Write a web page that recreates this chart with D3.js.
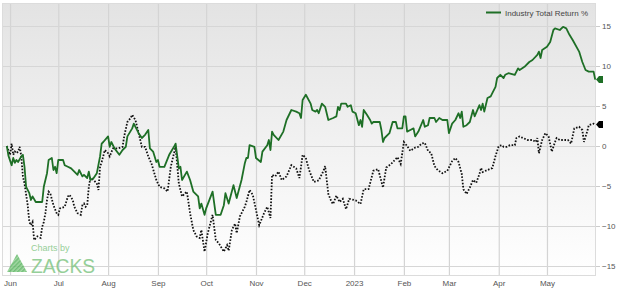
<!DOCTYPE html>
<html>
<head>
<meta charset="utf-8">
<script src="https://cdn.jsdelivr.net/npm/d3@7"></script>
<style>
  html, body { margin: 0; padding: 0; background: #fff; }
  svg { display: block; font-family: "Liberation Sans", Arial, sans-serif; }
</style>
</head>
<body>
<div id="chart"></div>
<script>
// industry total return %
const industry = [
  ["2022-05-30", 0], ["2022-05-31", -1.2], ["2022-06-02", -2.4], ["2022-06-03", -1.5], ["2022-06-04", -2.1],
  ["2022-06-05", -1.75], ["2022-06-06", -2.0], ["2022-06-08", -1.3], ["2022-06-09", -1.1], ["2022-06-10", -2.6],
  ["2022-06-11", -5.1], ["2022-06-13", -5.9], ["2022-06-14", -6.75], ["2022-06-15", -6.3], ["2022-06-17", -7.0],
  ["2022-06-21", -7.0], ["2022-06-22", -5.1], ["2022-06-24", -3.4], ["2022-06-25", -1.75], ["2022-06-27", -1.5],
  ["2022-06-28", -3.0], ["2022-06-29", -2.6], ["2022-06-30", -3.4], ["2022-07-01", -1.75], ["2022-07-04", -1.75],
  ["2022-07-05", -2.4], ["2022-07-07", -2.6], ["2022-07-09", -2.8], ["2022-07-11", -3.2], ["2022-07-13", -3.6],
  ["2022-07-14", -3.0], ["2022-07-16", -3.8], ["2022-07-17", -3.6], ["2022-07-19", -4.0], ["2022-07-20", -3.2],
  ["2022-07-21", -4.25], ["2022-07-23", -4.0], ["2022-07-25", -3.4], ["2022-07-27", -1.3], ["2022-07-28", 0.3],
  ["2022-07-29", 0.5], ["2022-08-01", 1.2], ["2022-08-02", -0.1], ["2022-08-03", 0.5], ["2022-08-05", -0.3],
  ["2022-08-08", -1.1], ["2022-08-10", -0.5], ["2022-08-12", -0.1], ["2022-08-13", 1.2], ["2022-08-16", 2.2],
  ["2022-08-17", 2.8], ["2022-08-18", 2.4], ["2022-08-20", 1.6], ["2022-08-22", 1.0], ["2022-08-24", 1.4],
  ["2022-08-26", 2.0], ["2022-08-27", -0.3], ["2022-08-29", -0.7], ["2022-08-31", -2.0], ["2022-09-01", -1.75],
  ["2022-09-02", -2.6], ["2022-09-05", -2.6], ["2022-09-08", -1.1], ["2022-09-11", -0.1], ["2022-09-12", 0.3],
  ["2022-09-14", -2.8], ["2022-09-15", -2.6], ["2022-09-16", -4.25], ["2022-09-19", -3.2], ["2022-09-21", -4.25],
  ["2022-09-23", -5.7], ["2022-09-26", -6.3], ["2022-09-27", -7.8], ["2022-09-28", -7.2], ["2022-09-30", -8.6],
  ["2022-10-01", -7.8], ["2022-10-05", -5.7], ["2022-10-07", -8.6], ["2022-10-10", -8.6], ["2022-10-12", -7.4],
  ["2022-10-13", -5.9], ["2022-10-15", -7.2], ["2022-10-18", -4.9], ["2022-10-20", -6.5], ["2022-10-23", -4.25],
  ["2022-10-25", -2.2], ["2022-10-26", -1.5], ["2022-10-27", -1.5], ["2022-10-28", 0.1], ["2022-10-31", -0.1],
  ["2022-11-01", -1.5], ["2022-11-04", -2.0], ["2022-11-05", -0.7], ["2022-11-08", 0.1], ["2022-11-09", 0.75],
  ["2022-11-10", -0.5], ["2022-11-11", 1.8], ["2022-11-12", 1.4], ["2022-11-15", 0.75], ["2022-11-18", 1.8],
  ["2022-11-20", 3.25], ["2022-11-23", 4.5], ["2022-11-26", 4.3], ["2022-11-28", 4.1], ["2022-11-29", 3.5],
  ["2022-11-30", 5.75], ["2022-12-02", 6.4], ["2022-12-05", 5.3], ["2022-12-06", 4.5], ["2022-12-08", 4.3],
  ["2022-12-09", 4.5], ["2022-12-10", 4.1], ["2022-12-12", 5.3], ["2022-12-14", 4.9], ["2022-12-16", 3.25],
  ["2022-12-19", 3.5], ["2022-12-21", 3.7], ["2022-12-22", 4.9], ["2022-12-23", 4.5], ["2022-12-24", 5.3],
  ["2022-12-27", 5.3], ["2022-12-28", 4.9], ["2022-12-30", 5.1], ["2022-12-31", 4.3], ["2023-01-02", 4.1],
  ["2023-01-04", 2.6], ["2023-01-05", 3.25], ["2023-01-06", 2.4], ["2023-01-07", 4.5], ["2023-01-09", 3.9],
  ["2023-01-11", 3.25], ["2023-01-12", 2.8], ["2023-01-13", 3.0], ["2023-01-17", 3.0], ["2023-01-18", 2.0],
  ["2023-01-19", 0.5], ["2023-01-20", 1.0], ["2023-01-23", 1.6], ["2023-01-25", 3.0], ["2023-01-27", 3.0],
  ["2023-01-28", 2.2], ["2023-01-31", 2.2], ["2023-02-01", 3.7], ["2023-02-02", 3.7], ["2023-02-03", 1.8],
  ["2023-02-05", 2.0], ["2023-02-07", 2.2], ["2023-02-08", 1.2], ["2023-02-10", 1.8], ["2023-02-13", 3.25],
  ["2023-02-14", 2.4], ["2023-02-16", 2.6], ["2023-02-17", 3.5], ["2023-02-20", 3.5], ["2023-02-21", 3.0],
  ["2023-02-23", 3.5], ["2023-02-25", 3.25], ["2023-02-28", 3.25], ["2023-03-01", 1.6], ["2023-03-03", 2.8],
  ["2023-03-05", 3.25], ["2023-03-07", 4.1], ["2023-03-08", 3.5], ["2023-03-09", 4.3], ["2023-03-10", 2.4],
  ["2023-03-12", 2.6], ["2023-03-14", 3.0], ["2023-03-16", 4.5], ["2023-03-17", 3.7], ["2023-03-20", 5.1],
  ["2023-03-21", 4.5], ["2023-03-22", 5.3], ["2023-03-23", 4.3], ["2023-03-25", 6.0], ["2023-03-27", 6.2],
  ["2023-03-28", 6.6], ["2023-03-30", 7.4], ["2023-03-31", 8.5], ["2023-04-02", 8.9], ["2023-04-04", 8.5],
  ["2023-04-05", 8.9], ["2023-04-07", 9.1], ["2023-04-11", 8.9], ["2023-04-13", 9.7], ["2023-04-14", 9.5],
  ["2023-04-17", 9.9], ["2023-04-20", 10.5], ["2023-04-22", 10.75], ["2023-04-25", 11.4], ["2023-04-26", 11.8],
  ["2023-04-27", 11.0], ["2023-04-28", 12.0], ["2023-05-01", 12.4], ["2023-05-03", 13.0], ["2023-05-05", 14.5],
  ["2023-05-06", 14.7], ["2023-05-09", 14.5], ["2023-05-11", 14.9], ["2023-05-13", 14.7], ["2023-05-15", 13.9],
  ["2023-05-17", 13.25], ["2023-05-21", 11.8], ["2023-05-23", 10.5], ["2023-05-25", 9.5], ["2023-05-27", 9.3],
  ["2023-05-30", 9.3], ["2023-05-31", 8.3]
];

// the dotted benchmark line
const benchmark = [
  ["2022-05-30", 0], ["2022-06-01", -1.1], ["2022-06-02", 0.3], ["2022-06-03", -1.1], ["2022-06-04", -0.7],
  ["2022-06-05", -0.9], ["2022-06-06", -0.7], ["2022-06-07", -0.1], ["2022-06-08", -1.3], ["2022-06-09", -3.8],
  ["2022-06-10", -4.7], ["2022-06-12", -7.4], ["2022-06-13", -9.5], ["2022-06-14", -9.9], ["2022-06-15", -9.5],
  ["2022-06-16", -11.75], ["2022-06-18", -11.3], ["2022-06-20", -11.5], ["2022-06-21", -10.1], ["2022-06-22", -9.5],
  ["2022-06-23", -8.4], ["2022-06-24", -6.75], ["2022-06-25", -5.7], ["2022-06-26", -5.9], ["2022-06-28", -7.4],
  ["2022-06-30", -8.4], ["2022-07-01", -8.6], ["2022-07-02", -7.8], ["2022-07-05", -7.6], ["2022-07-07", -6.3],
  ["2022-07-08", -6.1], ["2022-07-10", -6.75], ["2022-07-11", -7.6], ["2022-07-13", -8.4], ["2022-07-15", -8.6],
  ["2022-07-16", -7.4], ["2022-07-17", -7.2], ["2022-07-18", -7.6], ["2022-07-19", -7.4], ["2022-07-20", -5.1],
  ["2022-07-21", -4.0], ["2022-07-23", -4.25], ["2022-07-25", -4.7], ["2022-07-26", -5.5], ["2022-07-27", -2.6],
  ["2022-07-28", -2.0], ["2022-07-30", -0.5], ["2022-08-01", -0.9], ["2022-08-02", -1.3], ["2022-08-04", -0.3],
  ["2022-08-07", -0.3], ["2022-08-10", -0.1], ["2022-08-11", 1.2], ["2022-08-13", 3.0], ["2022-08-15", 3.5],
  ["2022-08-16", 3.9], ["2022-08-18", 3.25], ["2022-08-20", 1.6], ["2022-08-22", -0.1], ["2022-08-24", -0.1],
  ["2022-08-26", -1.3], ["2022-08-28", -2.2], ["2022-08-31", -4.25], ["2022-09-02", -5.1], ["2022-09-05", -5.3],
  ["2022-09-07", -5.7], ["2022-09-09", -2.6], ["2022-09-11", -0.9], ["2022-09-12", -0.1], ["2022-09-14", -4.7],
  ["2022-09-16", -6.3], ["2022-09-18", -5.9], ["2022-09-19", -5.7], ["2022-09-21", -8.4], ["2022-09-23", -10.5],
  ["2022-09-25", -11.3], ["2022-09-27", -11.5], ["2022-09-28", -10.5], ["2022-09-30", -13.2], ["2022-10-02", -10.9],
  ["2022-10-05", -8.6], ["2022-10-07", -11.75], ["2022-10-09", -12.2], ["2022-10-12", -13.2], ["2022-10-14", -12.4],
  ["2022-10-15", -13.1], ["2022-10-17", -10.5], ["2022-10-19", -9.7], ["2022-10-20", -10.9], ["2022-10-22", -8.8],
  ["2022-10-25", -7.6], ["2022-10-26", -7.0], ["2022-10-28", -5.5], ["2022-10-30", -6.1], ["2022-11-01", -8.0],
  ["2022-11-03", -9.9], ["2022-11-06", -8.4], ["2022-11-08", -7.6], ["2022-11-10", -9.0], ["2022-11-11", -3.6],
  ["2022-11-13", -3.8], ["2022-11-15", -3.2], ["2022-11-17", -4.25], ["2022-11-20", -3.8], ["2022-11-23", -2.4],
  ["2022-11-26", -2.8], ["2022-11-28", -4.0], ["2022-11-29", -2.6], ["2022-11-30", -1.1], ["2022-12-02", -1.5],
  ["2022-12-04", -3.0], ["2022-12-06", -4.0], ["2022-12-07", -4.5], ["2022-12-10", -4.3], ["2022-12-13", -3.1],
  ["2022-12-14", -2.5], ["2022-12-16", -6.0], ["2022-12-18", -7.0], ["2022-12-19", -7.25], ["2022-12-21", -6.2],
  ["2022-12-23", -7.0], ["2022-12-25", -6.6], ["2022-12-27", -7.9], ["2022-12-29", -6.6], ["2023-01-02", -6.8],
  ["2023-01-05", -7.25], ["2023-01-07", -5.4], ["2023-01-10", -5.4], ["2023-01-13", -3.1], ["2023-01-16", -2.9],
  ["2023-01-19", -5.2], ["2023-01-21", -2.7], ["2023-01-24", -2.25], ["2023-01-28", -1.4], ["2023-01-30", -2.25],
  ["2023-02-01", 0.5], ["2023-02-03", 0.0], ["2023-02-05", -0.6], ["2023-02-08", -0.2], ["2023-02-10", -0.1],
  ["2023-02-12", 0.3], ["2023-02-14", 0.4], ["2023-02-16", -0.6], ["2023-02-18", -0.9], ["2023-02-20", -2.5],
  ["2023-02-22", -3.0], ["2023-02-25", -3.4], ["2023-02-28", -3.1], ["2023-03-03", -1.9], ["2023-03-05", -1.5],
  ["2023-03-07", -2.0], ["2023-03-09", -3.5], ["2023-03-10", -5.4], ["2023-03-12", -6.0], ["2023-03-14", -5.2],
  ["2023-03-16", -4.25], ["2023-03-18", -4.6], ["2023-03-20", -3.5], ["2023-03-21", -2.75], ["2023-03-22", -3.25],
  ["2023-03-25", -3.0], ["2023-03-28", -2.75], ["2023-03-30", -1.25], ["2023-04-01", 0.0], ["2023-04-03", 0.1],
  ["2023-04-04", -0.1], ["2023-04-06", -0.1], ["2023-04-08", 0.1], ["2023-04-11", 0.1], ["2023-04-12", 1.0],
  ["2023-04-14", 1.2], ["2023-04-16", 1.0], ["2023-04-19", 0.75], ["2023-04-22", 0.75], ["2023-04-24", 0.5],
  ["2023-04-25", 1.0], ["2023-04-26", -0.9], ["2023-04-28", 0.75], ["2023-04-30", 1.6], ["2023-05-02", 1.2],
  ["2023-05-04", -0.7], ["2023-05-06", 0.5], ["2023-05-07", 1.0], ["2023-05-09", 0.75], ["2023-05-12", 0.75],
  ["2023-05-14", 0.75], ["2023-05-16", 0.3], ["2023-05-18", 2.2], ["2023-05-21", 2.4], ["2023-05-23", 2.0],
  ["2023-05-24", 0.5], ["2023-05-26", 1.8], ["2023-05-27", 2.6], ["2023-05-30", 2.8], ["2023-05-31", 2.7]
];

const yTicks = [-15, -10, -5, 0, 5, 10, 15];
const monthTicks = ["2022-06-01", "2022-07-01", "2022-08-01", "2022-09-01", "2022-10-01", "2022-11-01",
  "2022-12-01", "2023-01-01", "2023-02-01", "2023-03-01", "2023-04-01", "2023-05-01"];
const legendLabel = "Industry Total Return %";

const W = 620, H = 288;
const plot = { left: 2, right: 596, top: 3, bottom: 276 };
const green = "#1e6f26";

const parse = d3.timeParse("%Y-%m-%d");

const x = d3.scaleTime()
  .domain([new Date(2022, 4, 27), new Date(2023, 4, 31, 12)])
  .range([plot.left, plot.right]);
const y = d3.scaleLinear()
  .domain([-16.25, 17.875])
  .range([plot.bottom, plot.top]);

const svg = d3.select("#chart").append("svg")
  .attr("width", W).attr("height", H);

const defs = svg.append("defs");
const grad = defs.append("linearGradient")
  .attr("id", "bg").attr("x1", 0).attr("y1", 0).attr("x2", 0).attr("y2", 1);
grad.append("stop").attr("offset", "0%").attr("stop-color", "#e3e3e3");
grad.append("stop").attr("offset", "100%").attr("stop-color", "#ffffff");
defs.append("clipPath").attr("id", "clip").append("rect")
  .attr("x", plot.left).attr("y", plot.top)
  .attr("width", plot.right - plot.left).attr("height", plot.bottom - plot.top);
// striped fill for the logo triangle
const stripes = defs.append("pattern")
  .attr("id", "stripes").attr("patternUnits", "userSpaceOnUse")
  .attr("width", 3).attr("height", 3).attr("patternTransform", "rotate(45)");
stripes.append("rect").attr("width", 3).attr("height", 3).attr("fill", "#8fcf8f");
stripes.append("rect").attr("width", 1.5).attr("height", 3).attr("fill", "#4daf55");

svg.append("rect")
  .attr("x", plot.left).attr("y", plot.top)
  .attr("width", plot.right - plot.left).attr("height", plot.bottom - plot.top)
  .attr("fill", "url(#bg)");

// grid lines
const xGrid = svg.append("g")
  .attr("transform", `translate(0,${plot.bottom})`)
  .call(d3.axisBottom(x).tickValues(monthTicks.map(parse))
    .tickSize(-(plot.bottom - plot.top)).tickFormat(""));
xGrid.select(".domain").remove();
xGrid.selectAll("line").attr("stroke", "#d4d4d4").attr("stroke-width", 1.2);

const yGrid = svg.append("g")
  .attr("transform", `translate(${plot.right},0)`)
  .call(d3.axisRight(y).tickValues(yTicks)
    .tickSize(-(plot.right - plot.left)).tickFormat(""));
yGrid.select(".domain").remove();
yGrid.selectAll("line").attr("stroke", "#d6d6d6").attr("stroke-width", 1.2);

// frame
svg.append("rect")
  .attr("x", plot.left + 0.5).attr("y", plot.top + 0.5)
  .attr("width", plot.right - plot.left - 1).attr("height", plot.bottom - plot.top - 1)
  .attr("fill", "none").attr("stroke", "#dcdcdc");

// watermark
const wm = svg.append("g").attr("opacity", 0.8);
wm.append("path")
  .attr("d", "M7,272 L17,254 L27,272 Z")
  .attr("fill", "url(#stripes)");
wm.append("text").attr("x", 31).attr("y", 251)
  .attr("font-size", 9).attr("fill", "#7cc47f").text("Charts by");
wm.append("text").attr("x", 31).attr("y", 272.5)
  .attr("font-size", 20).attr("fill", "#7cc47f")
  .attr("textLength", 64).attr("lengthAdjust", "spacingAndGlyphs")
  .text("ZACKS");

// axes labels
const xAxis = svg.append("g")
  .attr("transform", `translate(0,${plot.bottom})`)
  .call(d3.axisBottom(x).tickValues(monthTicks.map(parse))
    .tickSize(0).tickPadding(4)
    .tickFormat(d => d.getMonth() === 0 ? d3.timeFormat("%Y")(d) : d3.timeFormat("%b")(d)));
xAxis.select(".domain").remove();
xAxis.selectAll("text").attr("font-size", 8).attr("fill", "#555")
  .attr("font-family", "Liberation Sans, Arial, sans-serif");

const yAxis = svg.append("g")
  .attr("transform", `translate(${plot.right},0)`)
  .call(d3.axisRight(y).tickValues(yTicks).tickSize(4).tickPadding(2));
yAxis.select(".domain").remove();
yAxis.selectAll("line").attr("stroke", "#ccc");
yAxis.selectAll("text").attr("font-size", 8).attr("fill", "#555")
  .attr("font-family", "Liberation Sans, Arial, sans-serif");

// lines
const line = d3.line()
  .x(d => x(parse(d[0])))
  .y(d => y(d[1]));

const lines = svg.append("g").attr("clip-path", "url(#clip)");
lines.append("path").datum(benchmark)
  .attr("d", line).attr("fill", "none")
  .attr("stroke", "#111").attr("stroke-width", 1.8)
  .attr("stroke-dasharray", "1.6,1.6");
lines.append("path").datum(industry)
  .attr("d", line).attr("fill", "none")
  .attr("stroke", green).attr("stroke-width", 1.8)
  .attr("stroke-linejoin", "round");

// end markers on the right edge
const marker = v => {
  const yy = y(v);
  return `M${plot.right},${yy} L${plot.right + 3},${yy - 3.5} L${plot.right + 7},${yy - 3.5} ` +
    `L${plot.right + 7},${yy + 3.5} L${plot.right + 3},${yy + 3.5} Z`;
};
svg.append("path").attr("d", marker(industry[industry.length - 1][1])).attr("fill", green);
svg.append("path").attr("d", marker(benchmark[benchmark.length - 1][1])).attr("fill", "#000");

// legend
const lg = svg.append("g");
lg.append("line").attr("x1", 486).attr("x2", 501).attr("y1", 12.5).attr("y2", 12.5)
  .attr("stroke", green).attr("stroke-width", 2);
lg.append("text").attr("x", 505).attr("y", 15.5)
  .attr("font-size", 8).attr("fill", "#444").text(legendLabel);
</script>
</body>
</html>
